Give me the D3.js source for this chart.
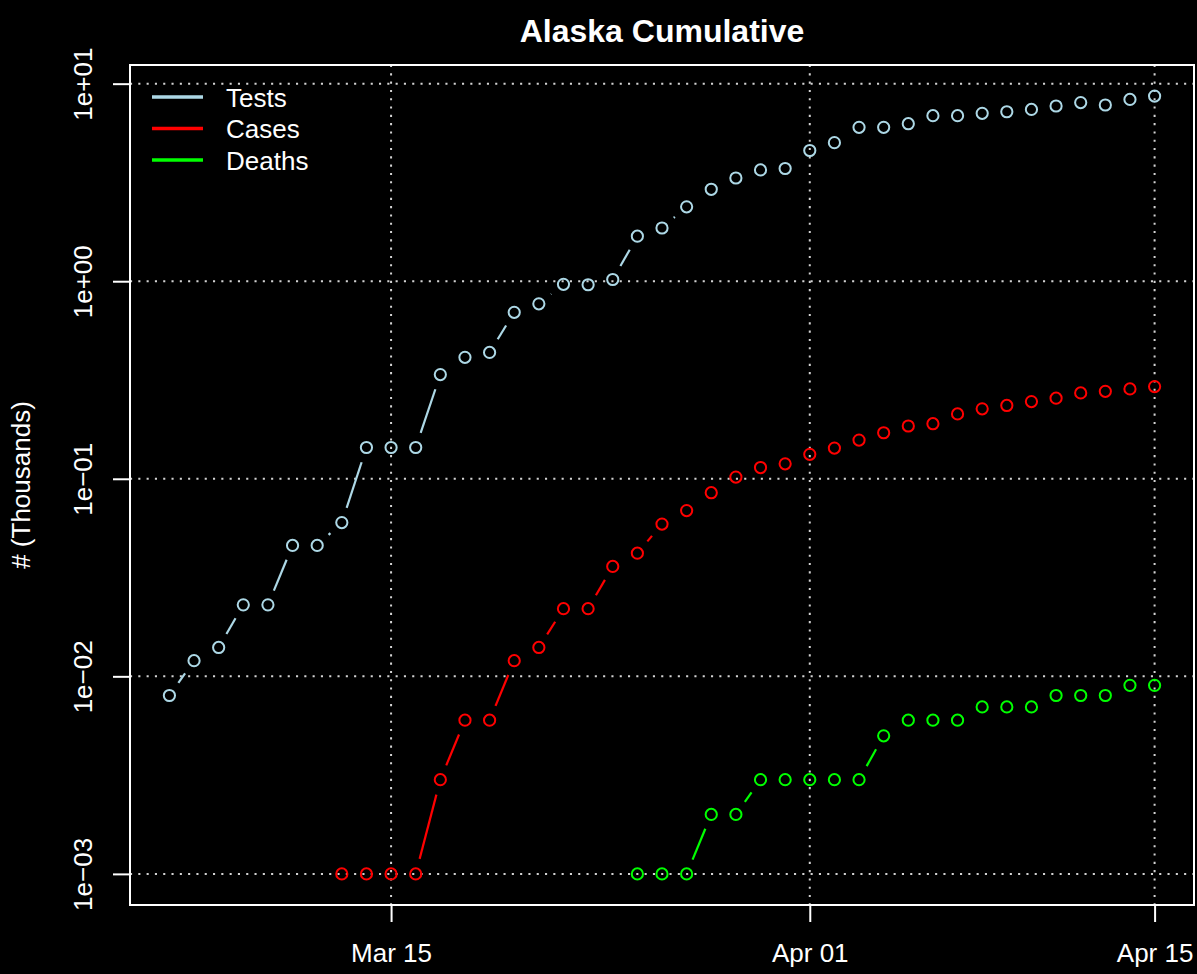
<!DOCTYPE html>
<html><head><meta charset="utf-8">
<script src="https://cdn.jsdelivr.net/npm/d3@7"></script>
<style>
body{margin:0;background:#000}
svg{display:block;background:#000}
text{font-family:"Liberation Sans",Arial,Helvetica,sans-serif;fill:#fff}
</style>
</head><body>
<svg id="c" width="1197" height="974"></svg>
<script>
// ---------------- data ----------------
const dates = [
  "2020-03-06","2020-03-07","2020-03-08","2020-03-09","2020-03-10","2020-03-11","2020-03-12",
  "2020-03-13","2020-03-14","2020-03-15","2020-03-16","2020-03-17","2020-03-18","2020-03-19",
  "2020-03-20","2020-03-21","2020-03-22","2020-03-23","2020-03-24","2020-03-25","2020-03-26",
  "2020-03-27","2020-03-28","2020-03-29","2020-03-30","2020-03-31","2020-04-01","2020-04-02",
  "2020-04-03","2020-04-04","2020-04-05","2020-04-06","2020-04-07","2020-04-08","2020-04-09",
  "2020-04-10","2020-04-11","2020-04-12","2020-04-13","2020-04-14","2020-04-15"
];
// thousands
const tests = [
  0.008,0.012,0.014,0.023,0.023,0.046,0.046,
  0.060,0.144,0.144,0.144,0.337,0.412,0.436,
  0.696,0.768,0.964,0.960,1.02,1.69,1.86,
  2.38,2.92,3.33,3.66,3.72,4.59,5.03,
  6.01,6.01,6.27,6.89,6.89,7.08,7.21,
  7.41,7.71,8.02,7.80,8.32,8.65
];
const cases = [
  null,null,null,null,null,null,null,
  0.001,0.001,0.001,0.001,0.003,0.006,0.006,
  0.012,0.014,0.022,0.022,0.036,0.042,0.059,
  0.069,0.085,0.102,0.114,0.119,0.133,0.143,
  0.157,0.171,0.185,0.190,0.213,0.226,0.235,
  0.246,0.256,0.272,0.277,0.285,0.293
];
const deaths = [
  null,null,null,null,null,null,null,
  null,null,null,null,null,null,null,
  null,null,null,null,null,0.001,0.001,
  0.001,0.002,0.002,0.003,0.003,0.003,0.003,
  0.003,0.005,0.006,0.006,0.006,0.007,0.007,
  0.007,0.008,0.008,0.008,0.009,0.009
];
const seriesNames = ["Tests","Cases","Deaths"];
const seriesColors = ["#ADD8E6","#FF0000","#00FF00"];
const xTickDates = ["2020-03-15","2020-04-01","2020-04-15"];
const yTickValues = [1e-3,1e-2,1e-1,1,10];
const titleText = "Alaska Cumulative";
const yLabelText = "# (Thousands)";

// ---------------- layout ----------------
const plot = {left:130,right:1194,top:65,bottom:905};
const svg = d3.select("#c");
const parse = d3.utcParse("%Y-%m-%d");
const dd = dates.map(parse);
const xExt = d3.extent(dd);
const span = xExt[1]-xExt[0];
const x = d3.scaleUtc()
  .domain([new Date(+xExt[0]-0.04*span), new Date(+xExt[1]+0.04*span)])
  .range([plot.left, plot.right]);
const allVals = tests.concat(cases, deaths).filter(v => v != null);
const lmin = Math.log10(d3.min(allVals)), lmax = Math.log10(d3.max(allVals));
const lspan = lmax - lmin;
const y = d3.scaleLog()
  .domain([Math.pow(10, lmin-0.04*lspan), Math.pow(10, lmax+0.04*lspan)])
  .range([plot.bottom, plot.top]);

const gridColor = "#d3d3d3";
const dash = "2.1,6.2";

// grid
const grid = svg.append("g");
grid.selectAll("line.h").data(yTickValues).join("line")
  .attr("x1", plot.left).attr("x2", plot.right)
  .attr("y1", d => y(d)).attr("y2", d => y(d))
  .attr("stroke", gridColor).attr("stroke-width", 2).attr("stroke-dasharray", dash);
grid.selectAll("line.v").data(xTickDates.map(parse)).join("line")
  .attr("y1", plot.top).attr("y2", plot.bottom)
  .attr("x1", d => x(d)).attr("x2", d => x(d))
  .attr("stroke", gridColor).attr("stroke-width", 2).attr("stroke-dasharray", dash);

// series (type = "b": points with gapped segments)
const seriesData = [tests, cases, deaths];
const gap = 15.5;
seriesData.forEach((vals, si) => {
  const pts = [];
  vals.forEach((v, i) => { if (v != null) pts.push([x(dd[i]), y(v)]); });
  const g = svg.append("g");
  for (let i = 0; i < pts.length - 1; i++) {
    const [x0, y0] = pts[i], [x1, y1] = pts[i+1];
    const dx = x1 - x0, dy = y1 - y0, L = Math.hypot(dx, dy);
    if (L <= 2*gap) continue;
    const ux = dx / L, uy = dy / L;
    g.append("line")
      .attr("x1", x0 + ux*gap).attr("y1", y0 + uy*gap)
      .attr("x2", x1 - ux*gap).attr("y2", y1 - uy*gap)
      .attr("stroke", seriesColors[si]).attr("stroke-width", 2.2);
  }
  g.selectAll("circle").data(pts).join("circle")
    .attr("cx", d => d[0]).attr("cy", d => d[1]).attr("r", 5.6)
    .attr("fill", "none").attr("stroke", seriesColors[si]).attr("stroke-width", 2);
});

// box
svg.append("rect")
  .attr("x", plot.left).attr("y", plot.top)
  .attr("width", plot.right - plot.left).attr("height", plot.bottom - plot.top)
  .attr("fill", "none").attr("stroke", "#fff").attr("stroke-width", 2);

// y axis
const fmtY = d => {
  const e = Math.round(Math.log10(d));
  const s = (e < 0 ? "\u2212" : "+") + String(Math.abs(e)).padStart(2, "0");
  return "1e" + s;
};
const yAxis = svg.append("g").attr("transform", `translate(${plot.left},0)`)
  .call(d3.axisLeft(y).tickValues(yTickValues).tickFormat(fmtY).tickSize(17));
yAxis.select(".domain").remove();
yAxis.selectAll(".tick line").attr("stroke", "#fff").attr("stroke-width", 2);
yAxis.selectAll(".tick text")
  .attr("x", null).attr("dy", null)
  .attr("transform", "translate(-38,0) rotate(-90)")
  .attr("text-anchor", "middle")
  .style("font-size", "26px").style("font-family", "'Liberation Sans',Arial,sans-serif")
  .attr("fill", "#fff");

// x axis
const xAxis = svg.append("g").attr("transform", `translate(0,${plot.bottom})`)
  .call(d3.axisBottom(x).tickValues(xTickDates.map(parse)).tickFormat(d3.utcFormat("%b %d")).tickSize(17));
xAxis.select(".domain").remove();
xAxis.selectAll(".tick line").attr("stroke", "#fff").attr("stroke-width", 2);
xAxis.selectAll(".tick text")
  .attr("y", 57).attr("dy", null)
  .style("font-size", "26px").style("font-family", "'Liberation Sans',Arial,sans-serif")
  .attr("fill", "#fff");

// title
svg.append("text").attr("x", (plot.left + plot.right)/2).attr("y", 42)
  .attr("text-anchor", "middle").style("font-size", "32px").style("font-weight", "bold")
  .text(titleText);

// y label
svg.append("text").attr("transform", `translate(30,${(plot.top+plot.bottom)/2}) rotate(-90)`)
  .attr("text-anchor", "middle").style("font-size", "26px")
  .text(yLabelText);

// legend
const leg = svg.append("g");
seriesNames.forEach((n, i) => {
  const ly = 97 + i*31.5;
  leg.append("line").attr("x1", 152).attr("x2", 203).attr("y1", ly).attr("y2", ly)
    .attr("stroke", seriesColors[i]).attr("stroke-width", 3.5);
  leg.append("text").attr("x", 226).attr("y", ly + 9.5).style("font-size", "26px").text(n);
});
</script>
</body></html>
